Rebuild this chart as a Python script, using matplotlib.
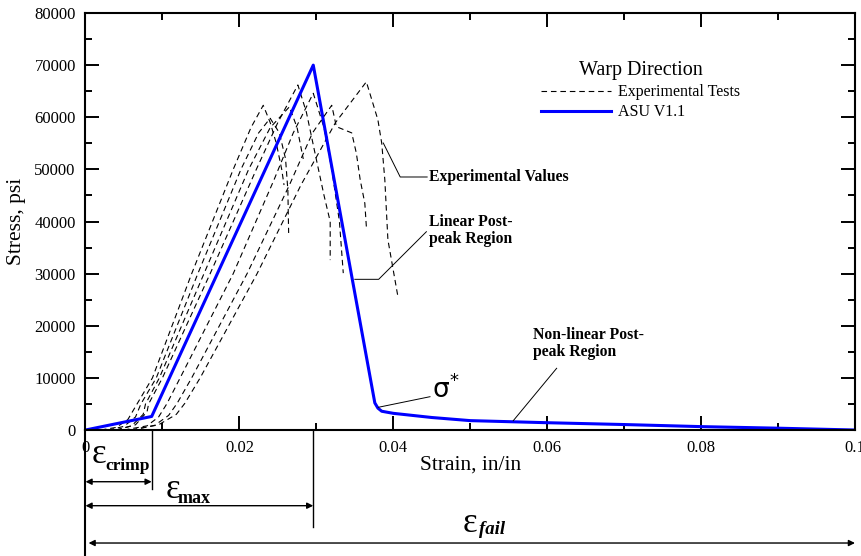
import numpy as np
import matplotlib
matplotlib.use('Agg')
import matplotlib.pyplot as plt
from matplotlib.lines import Line2D

# ---------------------------------------------------------------- donnees
# modele ASU V1.1 (courbe bleue)
asu_strain = [0, 0.0086, 0.0296, 0.0376, 0.0380, 0.0385, 0.040, 0.045, 0.050, 0.060, 0.070, 0.080, 0.090, 0.100]
asu_stress = [0, 2600, 70000, 5200, 4200, 3600, 3200, 2400, 1800, 1400, 1050, 650, 350, 0]

# essais experimentaux (pointilles)
exp1_strain = [0.002, 0.004, 0.0055, 0.0067, 0.0087, 0.0138, 0.0192, 0.0215, 0.0231, 0.0240, 0.0248, 0.0255, 0.0258]
exp1_stress = [0, 500, 2000, 5000, 10000, 30000, 50000, 58000, 62300, 59000, 55000, 50000, 47000]

exp2_strain = [0.003, 0.005, 0.0065, 0.0072, 0.0092, 0.0146, 0.0202, 0.0225, 0.0240, 0.0252, 0.0260, 0.0263, 0.0264]
exp2_stress = [0, 700, 2500, 5000, 10000, 30000, 50000, 57000, 59800, 57000, 52000, 46000, 37800]

exp3_strain = [0.004, 0.006, 0.0075, 0.0078, 0.0096, 0.0154, 0.0212, 0.0240, 0.0265, 0.0275, 0.0283]
exp3_stress = [0, 800, 3000, 5000, 10000, 30000, 50000, 58000, 62000, 58000, 52000]

exp4_strain = [0.004, 0.0065, 0.008, 0.0082, 0.0100, 0.0162, 0.0222, 0.0250, 0.0276, 0.0287, 0.0297, 0.0310, 0.0318, 0.0318]
exp4_stress = [0, 1000, 3500, 5000, 10000, 30000, 50000, 59000, 66200, 61000, 54000, 45000, 40000, 32600]

exp5_strain = [0.005, 0.008, 0.0095, 0.0106, 0.0123, 0.0192, 0.0245, 0.0270, 0.0296, 0.0310, 0.0320, 0.0330, 0.0335]
exp5_stress = [0, 800, 2500, 5100, 10000, 30000, 48000, 57000, 64600, 58000, 50000, 40000, 30100]

exp6_strain = [0.006, 0.009, 0.0108, 0.0119, 0.0138, 0.0210, 0.0265, 0.0295, 0.0320, 0.0326, 0.0346, 0.0352, 0.0357, 0.0363, 0.0365]
exp6_stress = [0, 900, 2800, 5100, 10000, 30000, 47000, 57000, 62300, 58200, 57000, 53100, 48000, 43500, 39000]

exp7_strain = [0.006, 0.0095, 0.0118, 0.0129, 0.0149, 0.0223, 0.0280, 0.0325, 0.0365, 0.0380, 0.0385, 0.0389, 0.0393, 0.0406]
exp7_stress = [0, 1000, 3000, 5100, 10000, 30000, 47000, 59000, 66800, 59500, 55000, 48000, 36500, 25600]

essais = [(exp1_strain, exp1_stress), (exp2_strain, exp2_stress), (exp3_strain, exp3_stress),
          (exp4_strain, exp4_stress), (exp5_strain, exp5_stress), (exp6_strain, exp6_stress),
          (exp7_strain, exp7_stress)]

eps_crimp = 0.0086
eps_max = 0.0296
eps_fail = 0.100

# ---------------------------------------------------------------- style
plt.rcParams['font.family'] = ['Liberation Serif', 'DejaVu Serif']

fig = plt.figure(figsize=(8.61, 5.56), dpi=100)
ax = fig.add_axes([0.0993, 0.2266, 0.8937, 0.75])

for s, c in essais:
    ax.plot(s, c, color='black', linestyle=(0, (5, 3.5)), linewidth=0.8)
ax.plot(asu_strain, asu_stress, color='#0000ff', linewidth=2.2, solid_joinstyle='round')

ax.set_xlim(0, 0.1)
ax.set_ylim(0, 80000)
ax.set_xticks(np.arange(0, 0.1001, 0.02))
ax.set_xticks(np.arange(0, 0.1001, 0.01), minor=True)
ax.set_yticks(np.arange(0, 80001, 10000))
ax.set_yticks(np.arange(0, 80001, 5000), minor=True)
ax.set_xticklabels(['0', '0.02', '0.04', '0.06', '0.08', '0.1'])
ax.set_yticklabels([str(v) for v in range(0, 80001, 10000)])
ax.tick_params(which='both', direction='in', top=True, right=True, width=1.4, labelsize=12)
ax.tick_params(which='major', length=10, pad=7)
ax.tick_params(which='minor', length=5)
for sp in ax.spines.values():
    sp.set_linewidth(1.5)

ax.set_xlabel('Strain, in/in', fontsize=15.5, labelpad=0)
ax.set_ylabel('Stress, psi', fontsize=15.5, labelpad=6)

# legende
poignees = [Line2D([], [], color='black', linestyle=(0, (5, 3.5)), linewidth=0.8),
            Line2D([], [], color='#0000ff', linewidth=2.2)]
leg = ax.legend(poignees, ['Experimental Tests', 'ASU V1.1'], title='Warp Direction',
                frameon=False, loc='upper left', bbox_to_anchor=(0.5915, 0.884),
                fontsize=11.5, title_fontsize=14.5, handlelength=4.4, handletextpad=0.45,
                labelspacing=0.25, borderaxespad=0, borderpad=0)

# annotations dans le graphe
ax.plot([0.0387, 0.0409, 0.0444], [55060, 48540, 48540], color='black', linewidth=0.7)
ax.text(0.0447, 48540, 'Experimental Values', fontsize=11.3, fontweight='bold', va='center')

ax.plot([0.0350, 0.0381, 0.0443], [28910, 28910, 38040], color='black', linewidth=0.7)
ax.text(0.0446, 38300, 'Linear Post-\npeak Region', fontsize=11.3, fontweight='bold',
        va='center', linespacing=1.1)

ax.plot([0.03805, 0.04477], [4355, 6390], color='black', linewidth=0.7)
ax.text(0.04516, 6300, 'σ', fontsize=19, va='baseline', family='DejaVu Sans')
ax.text(0.04724, 9400, '*', fontsize=13, va='center', family='DejaVu Sans')

ax.plot([0.06123, 0.05559], [11840, 1784], color='black', linewidth=0.7)
ax.text(0.0581, 16600, 'Non-linear Post-\npeak Region', fontsize=11.3, fontweight='bold',
        va='center', linespacing=1.1)

# cotes sous l'axe des x
tr = ax.get_xaxis_transform()
fleche = dict(arrowstyle='<|-|>', color='black', linewidth=1.0, mutation_scale=9,
              shrinkA=0, shrinkB=0)
ax.plot([0, 0], [0, -0.32], transform=tr, color='black', linewidth=1.5, clip_on=False)
ax.plot([eps_crimp, eps_crimp], [0, -0.1415], transform=tr, color='black', linewidth=1.0, clip_on=False)
ax.plot([eps_max, eps_max], [0, -0.232], transform=tr, color='black', linewidth=1.0, clip_on=False)

ax.annotate('', xy=(eps_crimp, -0.124), xytext=(0, -0.124), xycoords=tr, textcoords=tr,
            arrowprops=fleche, annotation_clip=False)
ax.annotate('', xy=(eps_max, -0.1815), xytext=(0, -0.1815), xycoords=tr, textcoords=tr,
            arrowprops=fleche, annotation_clip=False)
ax.annotate('', xy=(eps_fail, -0.271), xytext=(0.0004, -0.271), xycoords=tr, textcoords=tr,
            arrowprops=fleche, annotation_clip=False)

# epsilon + indices
ax.text(0.0008, -0.080, 'ε', transform=tr, fontsize=25, va='baseline')
ax.text(0.00253, -0.096, 'crimp', transform=tr, fontsize=12.5, fontweight='bold', va='baseline')
ax.text(0.01046, -0.163, 'ε', transform=tr, fontsize=25, va='baseline')
ax.text(0.01202, -0.175, 'max', transform=tr, fontsize=13, fontweight='bold', va='baseline')
ax.text(0.04906, -0.245, 'ε', transform=tr, fontsize=25, va='baseline')
ax.text(0.0511, -0.249, 'fail', transform=tr, fontsize=13.5, fontweight='bold',
        fontstyle='italic', va='baseline')

fig.savefig('out.png', dpi=100)
